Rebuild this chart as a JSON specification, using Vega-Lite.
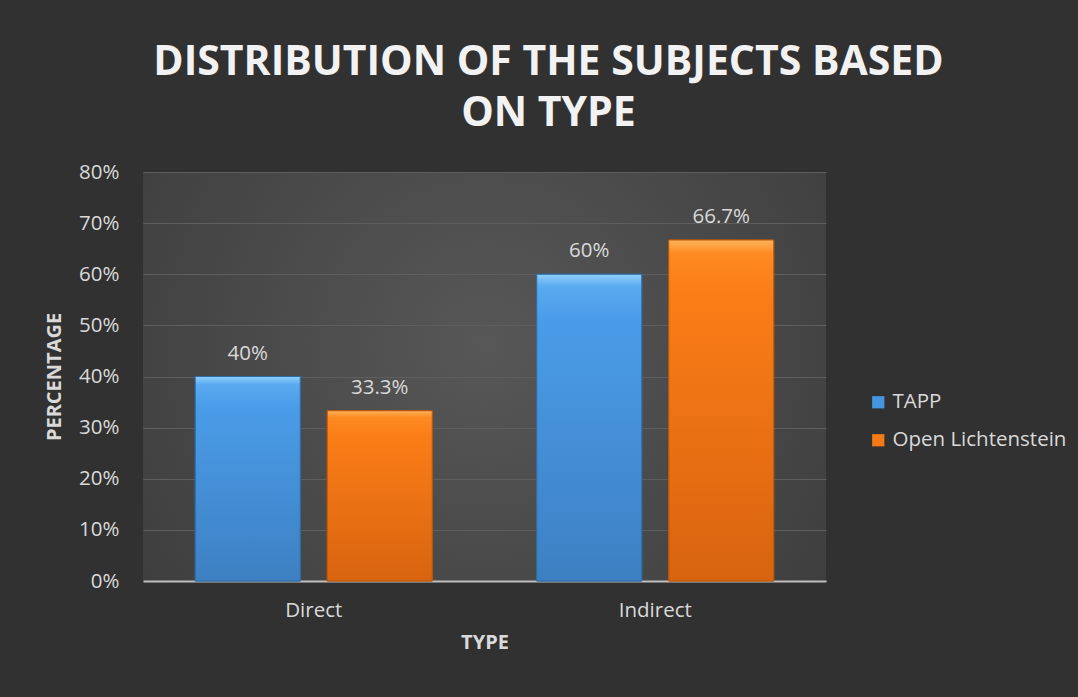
{
  "$schema": "https://vega.github.io/schema/vega-lite/v6.json",
  "width": 683,
  "height": 409,
  "autosize": "none",
  "padding": {"left": 143, "top": 172, "right": 252, "bottom": 116},
  "background": "#313131",
  "config": {
    "view": {
      "stroke": null,
      "fill": {"gradient": "radial", "x1": 0.5, "y1": 0.45, "x2": 0.5, "y2": 0.45, "r1": 0, "r2": 0.8,
        "stops": [{"offset": 0, "color": "#575757"}, {"offset": 1, "color": "#373737"}]}
    },
    "font": "Open Sans"
  },
  "title": {
    "text": ["DISTRIBUTION OF THE SUBJECTS BASED", "ON TYPE"],
    "font": "Open Sans",
    "fontSize": 41,
    "fontWeight": "bold",
    "color": "#f2f2f2",
    "lineHeight": 51,
    "anchor": "middle",
    "frame": "group",
    "dx": 64,
    "offset": 27
  },
  "data": {
    "values": [
      {"type": "Direct", "series": "TAPP", "value": 0.40, "label": "40%"},
      {"type": "Direct", "series": "Open Lichtenstein", "value": 0.333, "label": "33.3%"},
      {"type": "Indirect", "series": "TAPP", "value": 0.60, "label": "60%"},
      {"type": "Indirect", "series": "Open Lichtenstein", "value": 0.667, "label": "66.7%"}
    ]
  },
  "encoding": {
    "x": {
      "field": "type", "type": "nominal", "sort": ["Direct", "Indirect"],
      "scale": {"paddingInner": 0, "paddingOuter": 0},
      "axis": {
        "title": "TYPE", "titleFont": "Open Sans", "titleFontSize": 20, "titleFontWeight": "bold",
        "titleColor": "#d9d9d9", "titlePadding": 12,
        "labelAngle": 0, "labelFont": "Open Sans", "labelFontSize": 20.5, "labelColor": "#d9d9d9",
        "labelPadding": 19, "ticks": false, "domain": true, "domainColor": "#bfbfbf", "domainWidth": 2,
        "grid": false
      }
    },
    "xOffset": {
      "field": "series", "type": "nominal", "sort": ["TAPP", "Open Lichtenstein"],
      "scale": {"paddingInner": 0.2045, "paddingOuter": 0.396}
    },
    "y": {
      "field": "value", "type": "quantitative",
      "scale": {"domain": [0, 0.8], "nice": false},
      "axis": {
        "title": "PERCENTAGE", "titleFont": "Open Sans", "titleFontSize": 20, "titleFontWeight": "bold",
        "titleColor": "#d9d9d9", "titlePadding": 14,
        "format": ".0%", "values": [0, 0.1, 0.2, 0.3, 0.4, 0.5, 0.6, 0.7, 0.8],
        "labelOverlap": false,
        "labelFont": "Open Sans", "labelFontSize": 20.5, "labelColor": "#d9d9d9", "labelPadding": 24,
        "ticks": false, "domain": false,
        "grid": true, "gridColor": "#5e5e5e", "gridWidth": 1
      }
    }
  },
  "layer": [
    {
      "mark": {"type": "bar", "strokeWidth": 1},
      "encoding": {
        "color": {
          "field": "series", "type": "nominal", "sort": ["TAPP", "Open Lichtenstein"],
          "scale": {"domain": ["TAPP", "Open Lichtenstein"], "range": ["#4596e0", "#f57a15"]},
          "legend": {
            "title": null, "orient": "none", "legendX": 725, "legendY": 220,
            "labelFont": "Open Sans", "labelFontSize": 20.5, "labelColor": "#d9d9d9", "labelLimit": 400,
            "symbolType": "square", "symbolSize": 150, "symbolStrokeWidth": 0, "rowPadding": 17, "labelOffset": 4
          }
        },
        "stroke": {
          "field": "series", "type": "nominal",
          "scale": {"domain": ["TAPP", "Open Lichtenstein"], "range": ["#2f6ba3", "#b5560c"]},
          "legend": null
        }
      }
    },
    {
      "transform": [{"filter": "datum.series === 'TAPP'"}],
      "mark": {"type": "bar", "stroke": "#2f6ba3", "strokeWidth": 1,
        "fill": {"gradient": "linear", "x1": 0, "y1": 0, "x2": 0, "y2": 1,
          "stops": [{"offset": 0, "color": "#8fd0fa"}, {"offset": 0.04, "color": "#5aaaf0"}, {"offset": 0.15, "color": "#4a9ce8"}, {"offset": 1, "color": "#3d80c2"}]}}
    },
    {
      "transform": [{"filter": "datum.series === 'Open Lichtenstein'"}],
      "mark": {"type": "bar", "stroke": "#b5560c", "strokeWidth": 1,
        "fill": {"gradient": "linear", "x1": 0, "y1": 0, "x2": 0, "y2": 1,
          "stops": [{"offset": 0, "color": "#ffb35a"}, {"offset": 0.04, "color": "#ff8a22"}, {"offset": 0.15, "color": "#fb7d17"}, {"offset": 1, "color": "#d8640f"}]}}
    },
    {
      "mark": {"type": "text", "baseline": "alphabetic", "dy": -17, "font": "Open Sans", "fontSize": 20.5, "color": "#d9d9d9"},
      "encoding": {"text": {"field": "label"}}
    }
  ]
}
